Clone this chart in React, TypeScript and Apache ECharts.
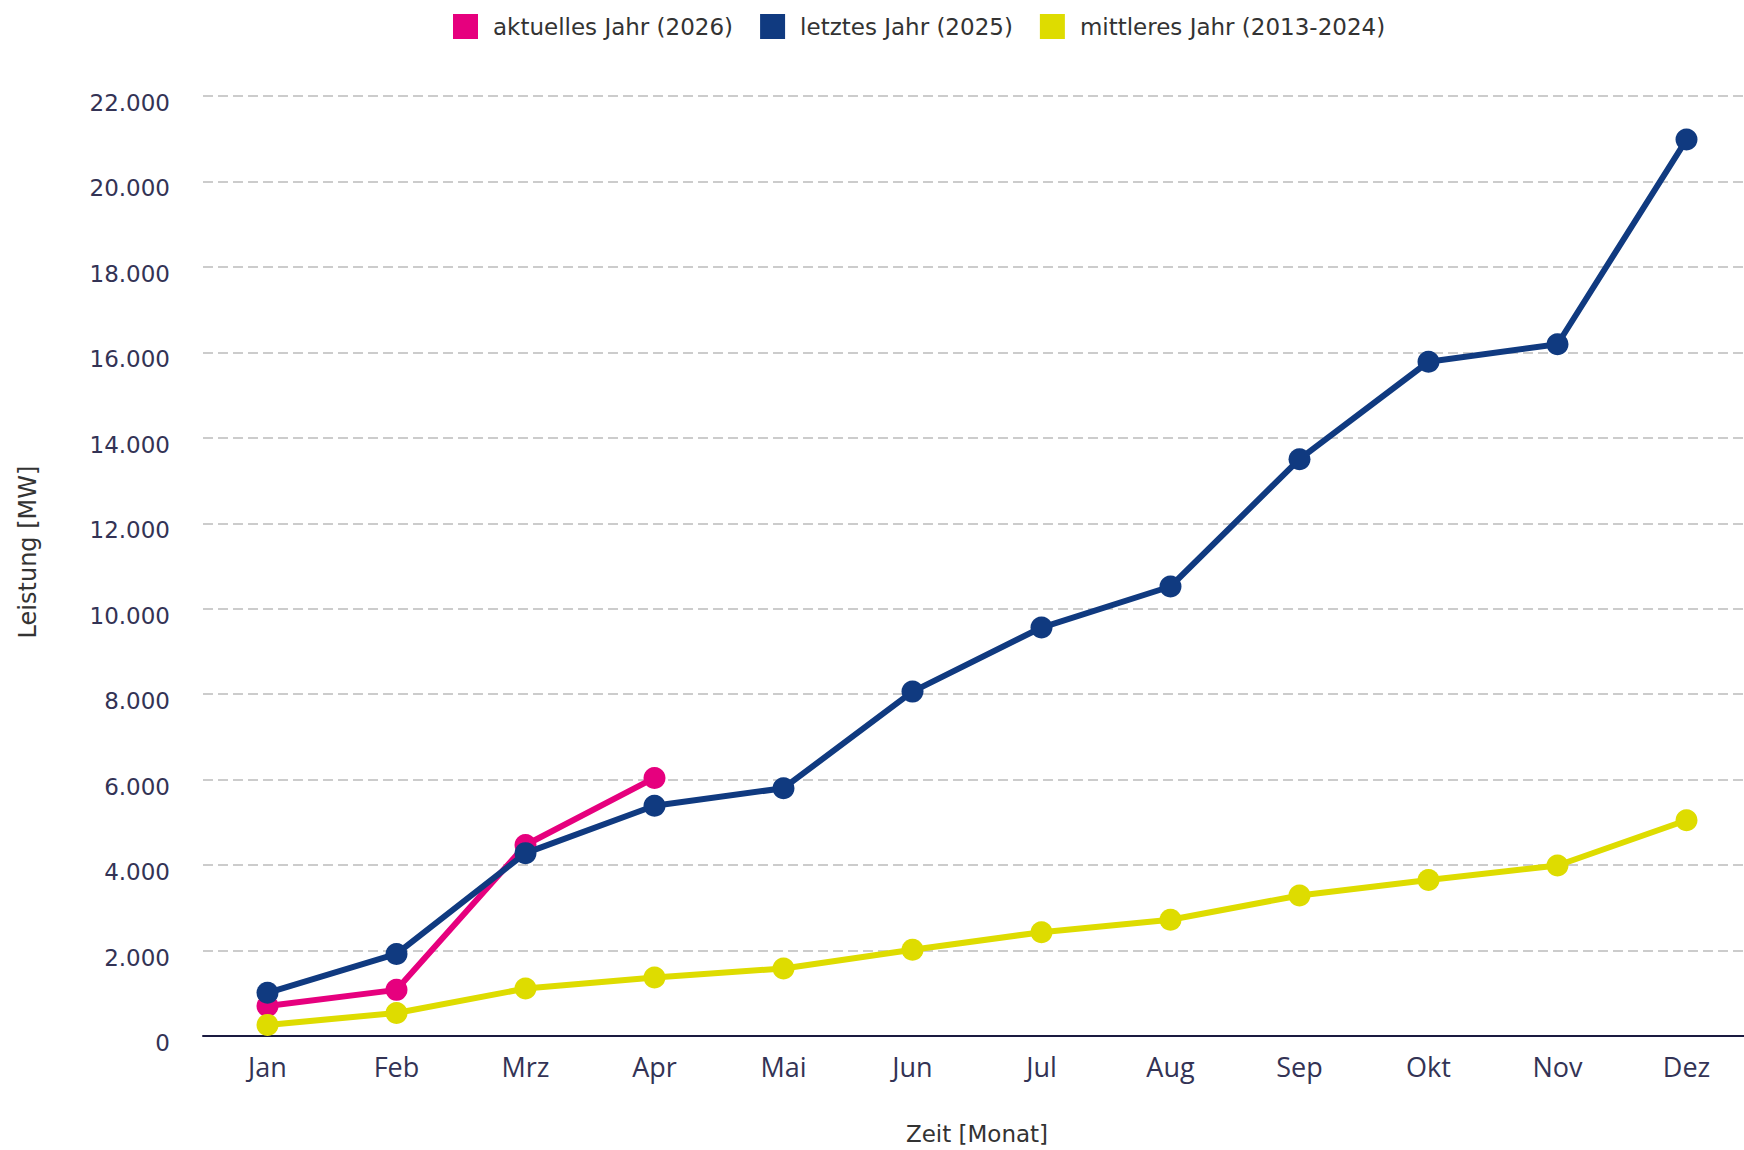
import React, { useEffect, useRef } from "react";
import * as echarts from "echarts";

const months = ["Jan", "Feb", "Mrz", "Apr", "Mai", "Jun", "Jul", "Aug", "Sep", "Okt", "Nov", "Dez"];
const seriesNames = ["aktuelles Jahr (2026)", "letztes Jahr (2025)", "mittleres Jahr (2013-2024)"];
const current2026 = [700, 1080, 4470, 6040];
const last2025 = [1010, 1920, 4280, 5390, 5800, 8060, 9560, 10520, 13500, 15780, 16190, 20980];
const mean2013_2024 = [260, 540, 1110, 1370, 1580, 2020, 2430, 2720, 3290, 3650, 3990, 5050];
const colors = ["#e6007e", "#103a80", "#dedc00"];

const fmt = (v: number) => (v === 0 ? "0" : v.toLocaleString("de-DE"));

export default function App() {
  const ref = useRef<HTMLDivElement>(null);
  useEffect(() => {
    if (!ref.current) return;
    const chart = echarts.init(ref.current, null, { renderer: "svg" });
    const mk = (name: string, data: number[], color: string, z: number) => ({
      name,
      type: "line",
      data,
      z,
      symbol: "circle",
      symbolSize: 22,
      showSymbol: true,
      lineStyle: { color, width: 6 },
      itemStyle: { color },
      emphasis: { disabled: true },
    });
    chart.setOption({
      animation: false,
      backgroundColor: "#ffffff",
      legend: {
        top: 9,
        left: 448,
        itemWidth: 25,
        itemHeight: 25,
        itemGap: 27,
        icon: "rect",
        textStyle: {
          fontFamily: "DejaVu Sans",
          fontSize: 23,
          color: "#333333",
          padding: [0, 0, 0, 10],
        },
        data: seriesNames,
      },
      grid: { left: 203, right: 9, top: 96, bottom: 93, containLabel: false },
      xAxis: {
        type: "category",
        data: months,
        boundaryGap: true,
        name: "Zeit [Monat]",
        nameLocation: "middle",
        nameGap: 86,
        nameTextStyle: { fontFamily: "DejaVu Sans", fontSize: 23, color: "#333333" },
        axisLine: { show: true, lineStyle: { color: "#1a1a40", width: 2 } },
        axisTick: { show: false },
        axisLabel: { fontFamily: "Open Sans", fontSize: 27, color: "#333355", margin: 17 },
        splitLine: { show: false },
      },
      yAxis: {
        type: "value",
        min: 0,
        max: 22000,
        interval: 2000,
        name: "Leistung [MW]",
        nameLocation: "middle",
        nameGap: 163,
        nameRotate: 90,
        nameTextStyle: {
          fontFamily: "DejaVu Sans",
          fontSize: 24,
          color: "#333333",
          padding: [0, 0, 0, 28],
        },
        axisLine: { show: false },
        axisTick: { show: false },
        axisLabel: {
          fontFamily: "DejaVu Sans",
          fontSize: 23,
          color: "#333355",
          margin: 33,
          verticalAlign: "top",
          lineHeight: 14,
          formatter: (v: number) => fmt(v),
        },
        splitLine: { show: true, lineStyle: { color: "#cccccc", width: 2, type: [10, 5] } },
      },
      series: [
        mk(seriesNames[0], current2026, colors[0], 2),
        mk(seriesNames[1], last2025, colors[1], 3),
        mk(seriesNames[2], mean2013_2024, colors[2], 4),
      ],
    });
    return () => chart.dispose();
  }, []);
  return (
    <div
      style={{
        position: "absolute",
        left: 0,
        top: 0,
        width: 1744,
        height: 1150,
        overflow: "hidden",
        background: "#fff",
      }}
    >
      <div ref={ref} style={{ width: 1760, height: 1150 }} />
    </div>
  );
}
